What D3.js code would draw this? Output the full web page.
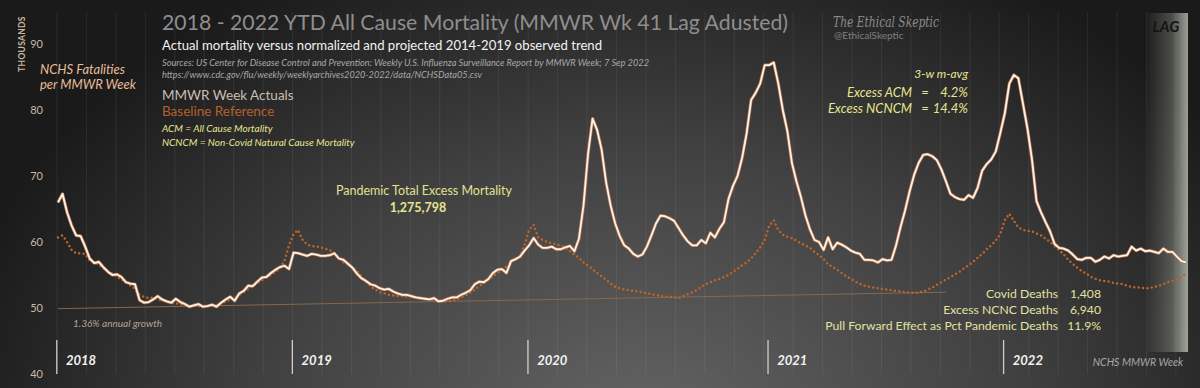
<!DOCTYPE html>
<html><head><meta charset="utf-8">
<script src="https://cdn.jsdelivr.net/npm/d3@7"></script>
<style>html,body{margin:0;padding:0;background:#1c1c1c;}svg{display:block;}</style>
</head><body>
<svg id="chart" width="1200" height="388"></svg>
<script>
// ---------- DATA ----------
const years = ["2018", "2019", "2020", "2021", "2022"];
const yearWeeks = [52, 52, 53, 52, 41];
const yTicks = [40, 50, 60, 70, 80, 90];

const actual2018 = [66.0,67.3,64.5,62.5,61.0,60.9,59.3,57.5,56.8,57.0,56.2,55.5,55.0,55.1,54.7,53.9,53.7,53.6,51.2,50.8,50.9,51.3,51.8,51.3,51.0,50.8,51.4,50.9,50.6,50.2,50.4,50.6,50.2,50.3,50.5,50.2,50.8,51.3,51.7,51.1,52.2,52.6,53.4,53.3,54.0,54.6,54.7,55.3,55.8,56.2,56.4,55.9];
const actual2019 = [58.4,58.3,58.1,57.9,58.2,58.1,57.9,57.9,58.0,58.3,57.5,57.3,56.7,56.1,55.2,54.5,54.1,53.6,53.4,53.0,52.8,52.9,52.5,52.2,52.0,52.0,51.8,51.6,51.5,51.4,51.3,51.5,51.0,51.1,51.4,51.6,51.6,52.0,52.3,52.7,53.6,54.0,53.9,54.4,55.3,55.8,55.9,55.3,57.1,57.4,57.8,58.7];
const actual2020 = [59.5,60.6,59.6,59.1,59.1,59.3,58.9,58.9,59.2,59.4,58.6,60.5,65.5,73.3,78.7,77.0,74.0,69.0,65.5,62.8,60.9,59.5,59.0,58.2,57.8,58.1,59.3,61.0,62.8,64.0,63.9,63.6,63.2,62.1,61.0,60.1,59.5,59.5,60.3,59.8,61.4,60.7,62.0,63.0,66.5,68.5,70.0,72.7,76.4,81.5,82.6,84.0,86.8];
const actual2021 = [86.8,87.2,84.0,80.0,76.8,72.0,69.2,66.8,64.0,61.9,60.3,60.0,58.8,60.7,58.9,59.9,59.6,59.2,58.7,58.4,58.2,57.3,57.3,57.2,56.9,57.4,57.2,57.3,59.5,62.3,64.8,67.7,70.2,72.0,73.2,73.3,73.0,72.4,71.0,69.2,67.3,66.8,66.5,66.4,67.1,66.7,68.2,70.8,71.8,72.5,73.7,76.5];
const actual2022 = [79.5,84.0,85.3,84.8,81.0,77.2,72.5,66.2,64.5,63.0,61.6,59.7,59.1,59.0,58.7,58.1,57.4,57.3,57.6,57.6,57.0,57.3,57.8,57.5,58.0,57.8,57.9,58.0,59.3,58.7,59.0,58.6,58.7,58.5,58.3,59.0,58.5,58.5,57.8,57.1,56.9];

const base2018 = [60.7,61.0,60.0,58.8,58.3,58.3,58.2,57.2,57.0,56.6,56.0,55.6,55.2,54.8,54.3,53.9,53.4,52.9,52.0,51.7,51.5,51.6,51.3,51.1,51.0,50.8,50.7,50.6,50.4,50.3,50.3,50.3,50.2,50.3,50.3,50.4,50.7,51.0,51.3,51.6,52.0,52.4,52.9,53.3,53.8,54.2,54.6,55.0,55.5,56.0,57.2,59.5];
const base2019 = [61.2,61.8,60.3,59.6,59.4,59.3,59.2,59.0,58.8,58.3,57.6,56.9,56.6,56.2,55.6,54.8,54.0,53.3,52.8,52.4,52.2,52.0,51.9,51.8,51.8,51.7,51.7,51.6,51.5,51.4,51.3,51.2,51.1,51.0,51.0,51.1,51.3,51.6,51.9,52.3,52.8,53.3,53.8,54.3,54.8,55.3,55.8,56.3,56.9,57.5,57.8,59.6];
const base2020 = [61.8,62.6,60.7,60.3,60.0,59.8,59.7,59.4,59.1,58.6,58.1,57.6,56.9,56.4,55.9,55.3,54.8,54.3,53.7,53.2,53.0,52.8,52.7,52.6,52.5,52.4,52.2,52.1,52.0,51.8,51.7,51.7,51.6,51.5,51.8,52.1,52.4,52.7,53.2,53.6,53.9,54.2,54.4,54.7,55.0,55.5,55.9,56.5,56.9,57.5,58.3,59.2,60.3];
const base2021 = [62.5,63.3,61.8,61.1,60.8,60.6,60.2,59.8,59.5,59.1,58.5,58.0,57.4,56.6,56.2,55.8,55.3,54.8,54.4,54.0,53.7,53.4,53.2,53.1,53.0,52.9,52.8,52.7,52.6,52.5,52.4,52.3,52.3,52.3,52.5,52.8,53.1,53.5,53.9,54.3,54.7,55.1,55.5,56.0,56.5,57.0,57.6,58.2,58.9,59.5,60.2,61.2];
const base2022 = [63.3,64.3,63.2,62.2,61.8,61.7,61.6,61.3,61.0,60.5,60.0,59.4,58.8,58.1,57.3,56.7,56.1,55.6,55.2,54.7,54.4,54.2,54.1,54.0,53.8,53.7,53.6,53.4,53.2,53.1,53.1,53.0,53.0,53.2,53.4,53.6,53.9,54.1,54.3,54.7,55.2];

// projected trend (1.36% annual growth): week index, value
const trendWeeks = [0, 196];
const trendValues = [49.9, 52.4];

const actual = [].concat(actual2018, actual2019, actual2020, actual2021, actual2022);
const baseline = [].concat(base2018, base2019, base2020, base2021, base2022);

// ---------- SETUP ----------
const W = 1200, H = 388;
const svg = d3.select("#chart");
const defs = svg.append("defs");

const bg = defs.append("radialGradient").attr("id", "bg")
  .attr("gradientUnits", "userSpaceOnUse").attr("cx", 640).attr("cy", 430).attr("r", 700)
  .attr("gradientTransform", "translate(640,430) scale(1,0.75) translate(-640,-430)");
bg.append("stop").attr("offset", "0").attr("stop-color", "#646464");
bg.append("stop").attr("offset", "0.55").attr("stop-color", "#404040");
bg.append("stop").attr("offset", "1").attr("stop-color", "#1a1a1a");
svg.append("rect").attr("width", W).attr("height", H).attr("fill", "url(#bg)");

const lag = defs.append("linearGradient").attr("id", "lag").attr("x1", 0).attr("x2", 1).attr("y1", 0).attr("y2", 0);
lag.append("stop").attr("offset", "0").attr("stop-color", "#c8cfc0").attr("stop-opacity", 0.03);
lag.append("stop").attr("offset", "0.6").attr("stop-color", "#c8cfc0").attr("stop-opacity", 0.28);
lag.append("stop").attr("offset", "1").attr("stop-color", "#cdd4c4").attr("stop-opacity", 0.72);

const x = d3.scaleLinear().domain([0, 249]).range([58, 1186]);
const y = d3.scaleLinear().domain([40, 90]).range([374, 44]);

// vertical gridlines
svg.append("g").selectAll("line").data(d3.range(0, 250, 6.5)).join("line")
  .attr("x1", d => x(d) - 1).attr("x2", d => x(d) - 1)
  .attr("y1", 12).attr("y2", 374)
  .attr("stroke", "#ffffff").attr("stroke-opacity", 0.07).attr("stroke-width", 1);

// LAG box
svg.append("rect").attr("x", 1147).attr("y", 13).attr("width", 41).attr("height", 339).attr("fill", "url(#lag)");
svg.append("text").attr("x", 1166).attr("y", 32).attr("text-anchor", "middle")
  .attr("font-family", "Lato").attr("font-weight", "bold").attr("font-style", "italic")
  .attr("font-size", 15).attr("fill", "#141414").text("LAG");

// y axis
const yAxis = d3.axisLeft(y).tickValues(yTicks).tickSize(0).tickPadding(4);
const ga = svg.append("g").attr("transform", "translate(47,0)").call(yAxis);
ga.select(".domain").remove();
ga.selectAll("text").attr("font-family", "Lato").attr("font-size", 11).attr("fill", "#c9b8a6");

// trend line
svg.append("line")
  .attr("x1", x(trendWeeks[0])).attr("y1", y(trendValues[0]))
  .attr("x2", x(trendWeeks[1])).attr("y2", y(trendValues[1]))
  .attr("stroke", "#85684f").attr("stroke-width", 1);

// baseline dotted
const lineGen = d3.line().x((d, i) => x(i)).y(d => y(d));
svg.append("path").datum(baseline).attr("d", lineGen)
  .attr("fill", "none").attr("stroke", "#bd6428").attr("stroke-width", 2.5)
  .attr("stroke-linecap", "round").attr("stroke-dasharray", "0 4.4");

// actual line with halo
svg.append("path").datum(actual).attr("d", lineGen)
  .attr("fill", "none").attr("stroke", "#b0744e").attr("stroke-width", 3.2).attr("stroke-linejoin", "round");
svg.append("path").datum(actual).attr("d", lineGen)
  .attr("fill", "none").attr("stroke", "#fff1e6").attr("stroke-width", 1.8).attr("stroke-linejoin", "round");

// year markers
let startIdx = 0;
const yearStarts = years.map((yr, k) => { const s = startIdx; startIdx += yearWeeks[k]; return s; });
const gy = svg.append("g");
gy.selectAll("line").data(yearStarts).join("line")
  .attr("x1", d => x(d) - 1.2).attr("x2", d => x(d) - 1.2)
  .attr("y1", 340).attr("y2", 374).attr("stroke", "#cfcfcf").attr("stroke-width", 1.3);
gy.selectAll("text").data(years).join("text")
  .attr("x", (d, k) => x(yearStarts[k]) + 8).attr("y", 365)
  .attr("font-family", "Lato").attr("font-weight", "bold").attr("font-style", "italic")
  .attr("font-size", 13).attr("fill", "#f2f2f2").text(d => d);

// ---------- TEXT ----------
function txt(xp, yp, s, o) {
  o = o || {};
  const t = svg.append("text").attr("x", xp).attr("y", yp)
    .attr("font-family", o.family || "Lato").attr("font-size", o.size || 12)
    .attr("fill", o.fill || "#ddd").text(s);
  if (o.italic) t.attr("font-style", "italic");
  if (o.bold) t.attr("font-weight", "bold");
  if (o.anchor) t.attr("text-anchor", o.anchor);
  if (o.len) t.attr("textLength", o.len).attr("lengthAdjust", "spacingAndGlyphs");
  return t;
}

txt(162, 30, "2018 - 2022 YTD All Cause Mortality (MMWR Wk 41 Lag Adusted)", {size: 22, fill: "#8e8e8e", len: 626});
txt(162, 50, "Actual mortality versus normalized  and projected 2014-2019 observed trend", {size: 13, fill: "#f2f2f2", len: 440});
txt(162, 66, "Sources: US Center for Disease Control and Prevention: Weekly U.S. Influenza Surveillance Report by MMWR Week; 7 Sep 2022", {size: 8.6, italic: true, fill: "#a8a8a8", len: 487});
txt(162, 78, "https://www.cdc.gov/flu/weekly/weeklyarchives2020-2022/data/NCHSData05.csv", {size: 8.6, italic: true, fill: "#a8a8a8", len: 320});
txt(162, 100, "MMWR Week Actuals", {size: 13.5, fill: "#c9bfb4"});
txt(162, 116, "Baseline Reference", {size: 13.5, fill: "#b4612a"});
txt(162, 132, "ACM = All Cause Mortality", {size: 10, italic: true, fill: "#e6e68e"});
txt(162, 146, "NCNCM = Non-Covid Natural Cause Mortality", {size: 10, italic: true, fill: "#e6e68e"});

// left labels
svg.append("text").attr("transform", "translate(25,44) rotate(-90)").attr("text-anchor", "middle")
  .attr("font-family", "Lato").attr("font-weight", "bold").attr("font-size", 8.5)
  .attr("fill", "#cbb6a2").attr("letter-spacing", 0.3).text("THOUSANDS");
txt(40, 74, "NCHS Fatalities", {size: 13, italic: true, fill: "#e8bc98"});
txt(40, 89, "per MMWR Week", {size: 13, italic: true, fill: "#e8bc98"});
txt(73, 327, "1.36% annual growth", {size: 10, italic: true, fill: "#b3a390"});

// watermark
txt(833, 27, "The Ethical Skeptic", {size: 14, italic: true, family: "DejaVu Serif", fill: "#8c8c8c", len: 106});
txt(834, 39, "@EthicalSkeptic", {size: 10, fill: "#808080"});

// pandemic total
txt(424, 195, "Pandemic Total Excess Mortality", {size: 12.5, fill: "#e2e28e", anchor: "middle"});
txt(418, 212, "1,275,798", {size: 12.5, bold: true, fill: "#e6e68e", anchor: "middle"});

// upper right
txt(968, 78, "3-w  m-avg", {size: 12, italic: true, fill: "#e6e68e", anchor: "end"});
txt(912, 97, "Excess ACM", {size: 13, italic: true, fill: "#e6e68e", anchor: "end"});
txt(925, 97, "=", {size: 13, italic: true, fill: "#e6e68e", anchor: "middle"});
txt(968, 97, "4.2%", {size: 13, italic: true, fill: "#e6e68e", anchor: "end"});
txt(912, 113, "Excess NCNCM", {size: 13, italic: true, fill: "#e6e68e", anchor: "end"});
txt(925, 113, "=", {size: 13, italic: true, fill: "#e6e68e", anchor: "middle"});
txt(968, 113, "14.4%", {size: 13, italic: true, fill: "#e6e68e", anchor: "end"});

// lower right
const statLabels = ["Covid Deaths", "Excess NCNC Deaths", "Pull Forward Effect as Pct Pandemic Deaths"];
const statValues = ["1,408", "6,940", "11.9%"];
statLabels.forEach((s, k) => {
  txt(1058, 298 + k * 16, s, {size: 12.2, fill: "#e2e2a0", anchor: "end"});
  txt(1101, 298 + k * 16, statValues[k], {size: 12.2, fill: "#e2e2a0", anchor: "end"});
});

txt(1183, 366, "NCHS  MMWR  Week", {size: 10.5, italic: true, fill: "#a8a8a8", anchor: "end"});
</script>
</body></html>
